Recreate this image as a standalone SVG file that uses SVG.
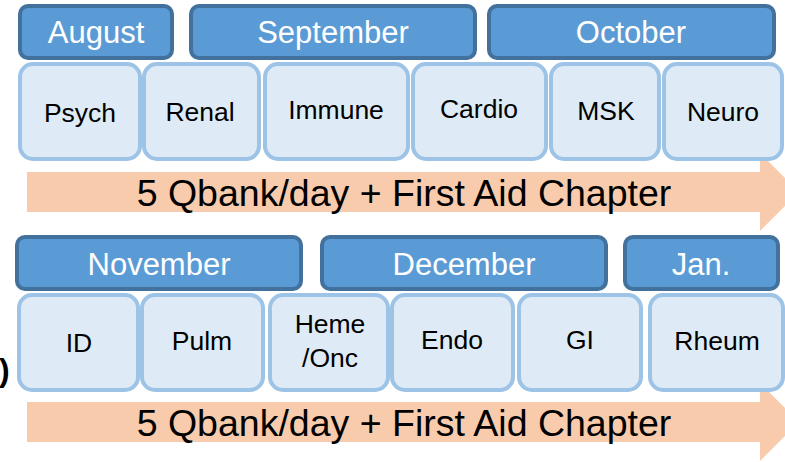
<svg xmlns="http://www.w3.org/2000/svg" width="785" height="462" viewBox="0 0 785 462">
<style>
.month rect{fill:#5B9BD5;stroke:#41719C;stroke-width:4}
.month text{fill:#FFFFFF;font-family:"Liberation Sans",Arial,sans-serif;font-size:31px;text-anchor:middle}
.subj rect{fill:#DEEBF7;stroke:#9DC3E6;stroke-width:4}
.subj text{fill:#000000;font-family:"Liberation Sans",Arial,sans-serif;font-size:26.5px;text-anchor:middle}
.arrow polygon{fill:#F8CBAD}
.arrow text{fill:#000000;font-family:"Liberation Sans",Arial,sans-serif;font-size:37.5px;text-anchor:middle}
</style>
<rect width="785" height="462" fill="#FFFFFF"/>
<g id="connectors">
<g id="arrow1" class="arrow"><polygon points="27,172 760,172 760,153 799,192 760,231 760,212 27,212"/><text x="404" y="206">5 Qbank/day + First Aid Chapter</text></g>
<g id="arrow2" class="arrow"><polygon points="27,402 760,402 760,383 799,422 760,461 760,442 27,442"/><text x="404" y="436">5 Qbank/day + First Aid Chapter</text></g>
</g>
<g id="august" class="month"><rect x="20" y="6" width="152" height="52" rx="8"/><text x="96" y="43">August</text></g>
<g id="september" class="month"><rect x="191" y="6" width="284" height="52" rx="8"/><text x="333" y="43">September</text></g>
<g id="october" class="month"><rect x="489" y="6" width="285" height="52" rx="8"/><text x="631" y="43">October</text></g>
<g id="psych" class="subj"><rect x="20" y="64" width="120" height="95" rx="13"/><text x="80" y="122">Psych</text></g>
<g id="renal" class="subj"><rect x="144" y="64" width="115" height="95" rx="13"/><text x="200" y="121">Renal</text></g>
<g id="immune" class="subj"><rect x="265" y="64" width="143" height="95" rx="13"/><text x="336" y="119">Immune</text></g>
<g id="cardio" class="subj"><rect x="413" y="64" width="133" height="95" rx="13"/><text x="479" y="118">Cardio</text></g>
<g id="msk" class="subj"><rect x="551" y="64" width="108" height="95" rx="13"/><text x="606" y="120">MSK</text></g>
<g id="neuro" class="subj"><rect x="664" y="64" width="118" height="95" rx="13"/><text x="723" y="121">Neuro</text></g>
<g id="november" class="month"><rect x="17" y="237" width="284" height="52" rx="8"/><text x="159" y="275">November</text></g>
<g id="december" class="month"><rect x="322" y="237" width="284" height="52" rx="8"/><text x="464" y="275">December</text></g>
<g id="jan" class="month"><rect x="625" y="237" width="153" height="52" rx="8"/><text x="701" y="275">Jan.</text></g>
<g id="id" class="subj"><rect x="19" y="295" width="119" height="95" rx="13"/><text x="79" y="352">ID</text></g>
<g id="pulm" class="subj"><rect x="142" y="295" width="121" height="95" rx="13"/><text x="202" y="350">Pulm</text></g>
<g id="hemeonc" class="subj"><rect x="270" y="295" width="118" height="95" rx="13"/><text x="330" y="333">Heme</text><text x="330" y="367">/Onc</text></g>
<g id="endo" class="subj"><rect x="392" y="295" width="121" height="95" rx="13"/><text x="452" y="349">Endo</text></g>
<g id="gi" class="subj"><rect x="519" y="295" width="122" height="95" rx="13"/><text x="580" y="349">GI</text></g>
<g id="rheum" class="subj"><rect x="650" y="295" width="133" height="95" rx="13"/><text x="717" y="350">Rheum</text></g>
<text x="-1" y="381" font-family="'Liberation Sans',Arial,sans-serif" font-size="32" font-weight="bold" fill="#000000">)</text>
</svg>
